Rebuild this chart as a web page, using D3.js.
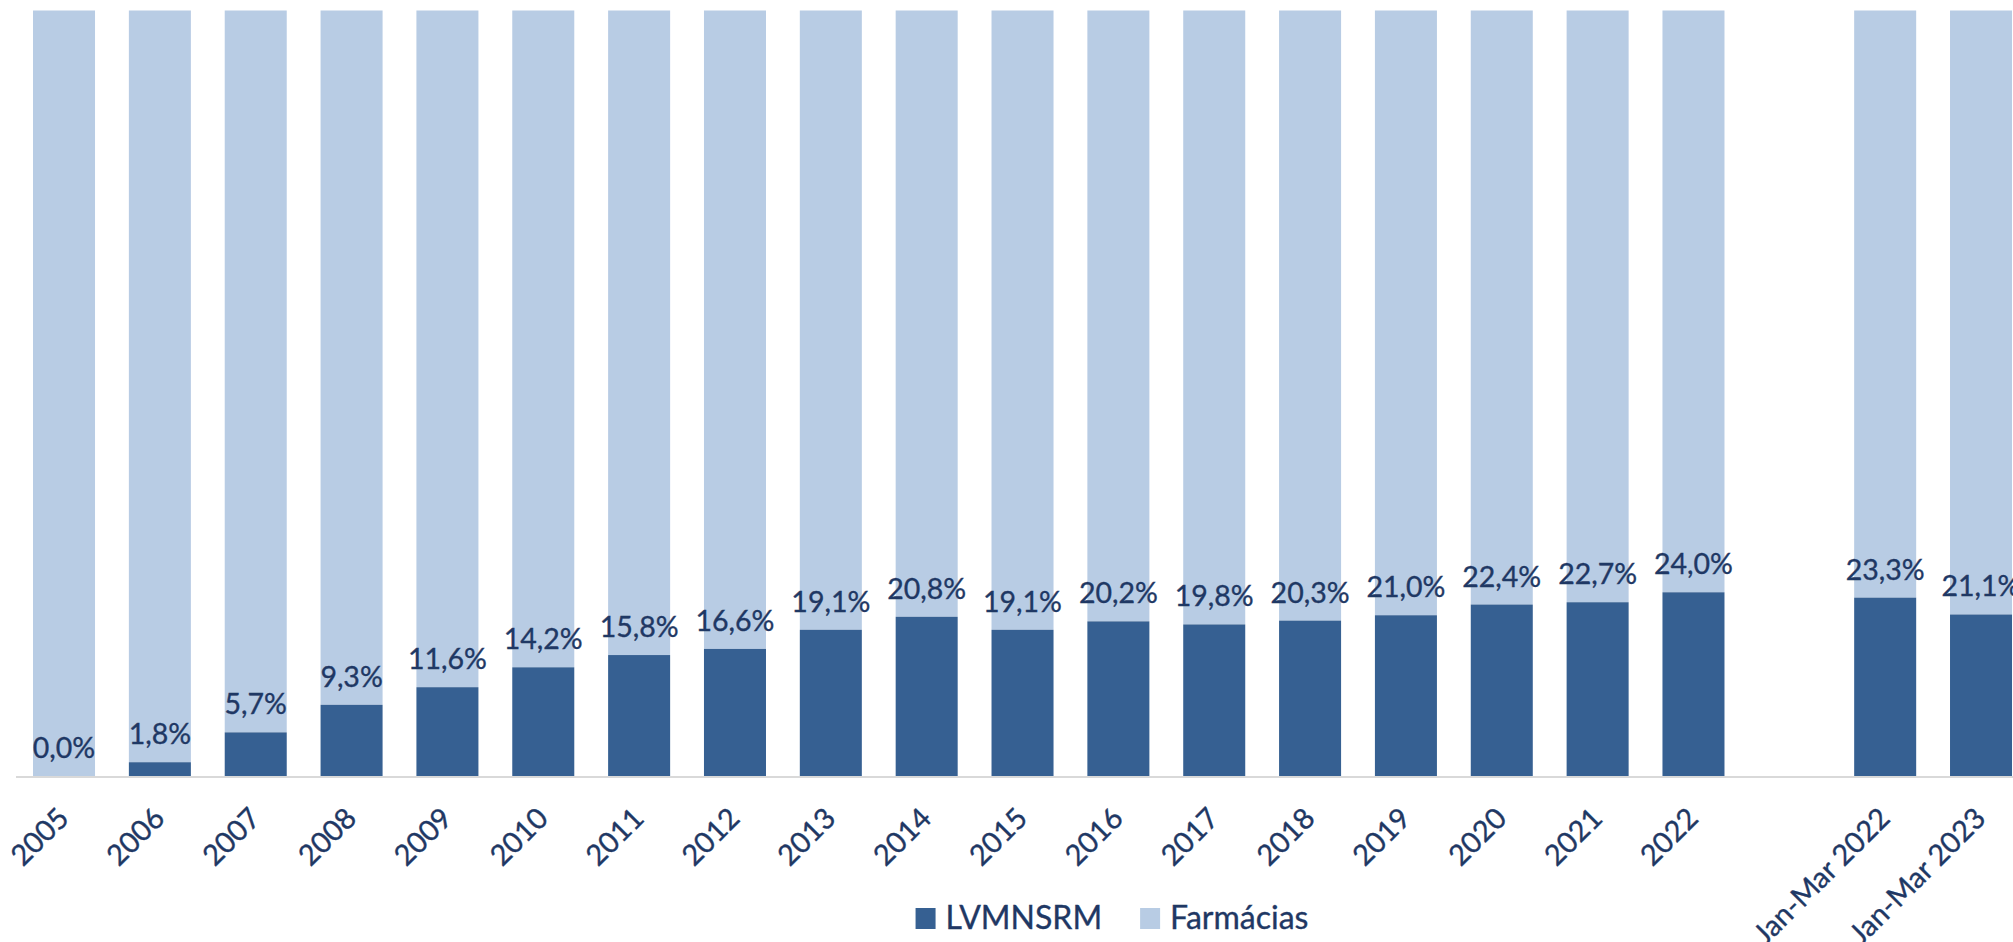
<!DOCTYPE html>
<html>
<head>
<meta charset="utf-8">
<script src="https://cdn.jsdelivr.net/npm/d3@7"></script>
<style>
  html, body { margin: 0; padding: 0; background: #ffffff; }
  svg { display: block; }
  text { font-family: Lato, "Open Sans", sans-serif; }
</style>
</head>
<body>
<div id="chart"></div>
<script>
// ---- data ----
const categories = ["2005","2006","2007","2008","2009","2010","2011","2012","2013","2014",
  "2015","2016","2017","2018","2019","2020","2021","2022"," ","Jan-Mar 2022","Jan-Mar 2023"];
const lvmnsrm = [0.0,1.8,5.7,9.3,11.6,14.2,15.8,16.6,19.1,20.8,
  19.1,20.2,19.8,20.3,21.0,22.4,22.7,24.0,null,23.3,21.1];
const farmacias = lvmnsrm.map(v => v == null ? null : 100 - v);
const seriesNames = ["LVMNSRM", "Farmácias"];

// ---- layout ----
const W = 2013, H = 942;
const colors = ["#366092", "#B8CCE4"];
const textColor = "#1F3864";
const baseY = 776, topY = 10.5;

const svg = d3.select("#chart").append("svg").attr("width", W).attr("height", H);

const x = d3.scaleBand().domain(categories).range([16.1, 16.1 + 21 * 95.85])
  .paddingInner(0.353).paddingOuter(0.1765);
const y = d3.scaleLinear().domain([0, 100]).range([baseY, topY]);

const rows = categories.map((c, i) => ({ cat: c, a: lvmnsrm[i], b: farmacias[i] }))
  .filter(d => d.a != null);

// Farmácias (upper stack)
svg.append("g").selectAll("rect").data(rows).join("rect")
  .attr("x", d => x(d.cat)).attr("width", x.bandwidth())
  .attr("y", d => y(d.a + d.b)).attr("height", d => y(d.a) - y(d.a + d.b))
  .attr("fill", colors[1]);

// LVMNSRM (lower stack)
svg.append("g").selectAll("rect").data(rows).join("rect")
  .attr("x", d => x(d.cat)).attr("width", x.bandwidth())
  .attr("y", d => y(d.a)).attr("height", d => y(0) - y(d.a))
  .attr("fill", colors[0]);

// axis line
svg.append("line").attr("x1", 16).attr("x2", W).attr("y1", baseY + 1).attr("y2", baseY + 1)
  .attr("stroke", "#D9D9D9").attr("stroke-width", 2);

// value labels
const fmt = v => v.toFixed(1).replace(".", ",") + "%";
svg.append("g").selectAll("text").data(rows).join("text")
  .attr("x", d => x(d.cat) + x.bandwidth() / 2)
  .attr("y", d => y(d.a) - 18)
  .attr("text-anchor", "middle")
  .attr("fill", textColor).attr("stroke", textColor).attr("stroke-width", 0.35)
  .attr("font-size", 28.5)
  .text(d => fmt(d.a));

// category axis
const axis = svg.append("g").attr("transform", `translate(0,${baseY})`)
  .call(d3.axisBottom(x).tickSize(0).tickFormat(d => d.trim()));
axis.select(".domain").remove();
axis.selectAll("text")
  .attr("x", 0).attr("y", 0).attr("dy", 0)
  .attr("transform", "translate(6.5,44) rotate(-45)")
  .attr("text-anchor", "end")
  .attr("fill", textColor).attr("stroke", textColor).attr("stroke-width", 0.35)
  .attr("font-size", 29)
  .attr("font-family", "Lato, 'Open Sans', sans-serif");

// legend
const legend = svg.append("g");
const items = legend.selectAll("g").data(seriesNames).join("g");
items.append("rect").attr("width", 20).attr("height", 21).attr("y", 908)
  .attr("fill", (d, i) => colors[i]);
items.append("text").attr("x", 30).attr("y", 929)
  .attr("fill", textColor).attr("stroke", textColor).attr("stroke-width", 0.35)
  .attr("font-size", 32).text(d => d);
const widths = [];
items.each(function () {
  widths.push(30 + this.querySelector("text").getComputedTextLength());
});
const total = widths[0] + 38 + widths[1];
const startX = 1112 - total / 2;
items.attr("transform", (d, i) => {
  const tx = i === 0 ? startX : startX + widths[0] + 38;
  return `translate(${tx},0)`;
});
</script>
</body>
</html>
